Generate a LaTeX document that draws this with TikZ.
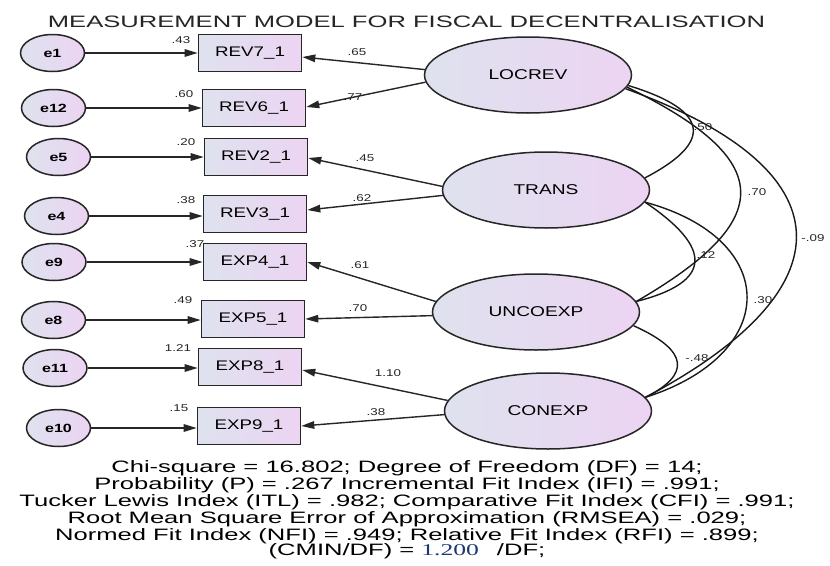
\documentclass[tikz,border=0pt]{standalone}
\usepackage{fontspec}
\usetikzlibrary{shapes.geometric,arrows.meta}
\newfontfamily\arialn{Liberation Sans}[FakeStretch=1.35]
\newfontfamily\arialt{Liberation Sans}[FakeStretch=1.55]
\newfontfamily\timest{Liberation Serif}[FakeStretch=1.55]
\definecolor{gl}{RGB}{222,226,238}
\definecolor{gr}{RGB}{236,212,242}
\definecolor{navyv}{RGB}{30,55,110}
\tikzset{
  latent/.style={ellipse, draw=black!85, line width=1.5pt, left color=gl, right color=gr,
    minimum width=207pt, minimum height=76pt, inner sep=0pt, font=\arialn\fontsize{14.2}{15}\selectfont},
  errv/.style={ellipse, draw=black!85, line width=1.5pt, left color=gl, right color=gr,
    minimum width=64pt, minimum height=37pt, inner sep=0pt, font=\arialn\bfseries\fontsize{11.9}{13}\selectfont},
  obs/.style={rectangle, draw=black!85, line width=1.6pt, left color=gl, right color=gr,
    minimum width=103pt, minimum height=37pt, inner sep=0pt, font=\arialn\fontsize{13.9}{15}\selectfont},
  coef/.style={inner sep=0pt, font=\arialn\fontsize{9.9}{11}\selectfont, text=black!85},
  arr/.style={line width=1.4pt, draw=black!85, -{Triangle[length=13pt,width=7.5pt]}},
  cov/.style={line width=1.4pt, draw=black!90},
  fitline/.style={inner sep=0pt, anchor=base, font=\arialt\fontsize{16.5}{18}\selectfont},
}
\begin{document}
\begin{tikzpicture}[x=1pt,y=-1pt]
\useasboundingbox[fill=white] (0,0) rectangle (830,565);
% title
\node[fitline, text=black!85] (title) at (406.5,27) {MEASUREMENT MODEL FOR FISCAL DECENTRALISATION};
% error terms
\node[errv] (e1)  at (52.5,53) {e1};
\node[errv] (e12) at (53.5,108) {e12};
\node[errv] (e5)  at (58.5,157) {e5};
\node[errv] (e4)  at (56.5,216) {e4};
\node[errv] (e9)  at (54,262) {e9};
\node[errv] (e8)  at (53.5,320) {e8};
\node[errv] (e11) at (55,368) {e11};
\node[errv] (e10) at (58.5,428) {e10};
% observed
\node[obs] (REV7) at (250,53) {REV7\_1};
\node[obs] (REV6) at (254,108) {REV6\_1};
\node[obs] (REV2) at (256,157) {REV2\_1};
\node[obs] (REV3) at (255,214) {REV3\_1};
\node[obs] (EXP4) at (255,262) {EXP4\_1};
\node[obs] (EXP5) at (253,319) {EXP5\_1};
\node[obs] (EXP8) at (250,367) {EXP8\_1};
\node[obs] (EXP9) at (249,426) {EXP9\_1};
% latent
\node[latent] (LOCREV)  at (528,75)  {LOCREV};
\node[latent] (TRANS)   at (546,190) {TRANS};
\node[latent] (UNCOEXP) at (536,312) {UNCOEXP};
\node[latent] (CONEXP)  at (548,411) {CONEXP};
% error arrows
\draw[arr] (e1)  -- (e1 -| REV7.west);
\draw[arr] (e12) -- (e12 -| REV6.west);
\draw[arr] (e5)  -- (e5 -| REV2.west);
\draw[arr] (e4)  -- (e4 -| REV3.west);
\draw[arr] (e9)  -- (e9 -| EXP4.west);
\draw[arr] (e8)  -- (e8 -| EXP5.west);
\draw[arr] (e11) -- (e11 -| EXP8.west);
\draw[arr] (e10) -- (e10 -| EXP9.west);
% loadings
\draw[arr] (LOCREV.177) -- ([yshift=-4pt]REV7.east);
\draw[arr] (LOCREV.184) -- ([yshift=1pt]REV6.east);
\draw[arr] (TRANS.178) -- ([yshift=-1pt]REV2.east);
\draw[arr] (TRANS.183) -- ([yshift=4pt]REV3.east);
\draw[arr] (UNCOEXP.174) -- (EXP4.east);
\draw[arr] (UNCOEXP.182) -- (EXP5.east);
\draw[arr] (CONEXP.174) -- ([yshift=-3pt]EXP8.east);
\draw[arr] (CONEXP.182) -- (EXP9.east);
% covariances
\draw[cov] (LOCREV.354) .. controls (712,111) and (712,143) .. (TRANS.7);
\draw[cov] (LOCREV.353) .. controls (777,160) and (777,220) .. (UNCOEXP.6);
\draw[cov] (LOCREV.352) .. controls (850,170) and (850,289) .. (CONEXP.8);
\draw[cov] (TRANS.353) .. controls (713,248) and (713,282) .. (UNCOEXP.6);
\draw[cov] (TRANS.353) .. controls (781,239) and (781,354) .. (CONEXP.8);
\draw[cov] (UNCOEXP.352) .. controls (690,351) and (690,375) .. (CONEXP.8);
% variance labels
\node[coef] (v1) at (181,40) {.43};
\node[coef] (v2) at (184,94) {.60};
\node[coef] (v3) at (186,142) {.20};
\node[coef] (v4) at (186,200) {.38};
\node[coef] (v5) at (195,244) {.37};
\node[coef] (v6) at (183,300) {.49};
\node[coef] (v7) at (178,348) {1.21};
\node[coef] (v8) at (179,408) {.15};
% loading labels
\node[coef] (l1) at (357,52) {.65};
\node[coef] (l2) at (353,97) {.77};
\node[coef] (l3) at (365,158) {.45};
\node[coef] (l4) at (362,198) {.62};
\node[coef] (l5) at (360,265) {.61};
\node[coef] (l6) at (358,308) {.70};
\node[coef] (l7) at (388,373) {1.10};
\node[coef] (l8) at (376,412) {.38};
% covariance labels
\node[coef] (c1) at (703,127) {.50};
\node[coef] (c2) at (757,192) {.70};
\node[coef] (c3) at (813,238) {-.09};
\node[coef] (c4) at (706,255) {.12};
\node[coef] (c5) at (763,300) {.30};
\node[coef] (c6) at (697,358) {-.48};
% fit statistics
\node[fitline] (f1) at (407,472) {Chi-square = 16.802; Degree of Freedom (DF) = 14;};
\node[fitline] (f2) at (407,489) {Probability (P) = .267 Incremental Fit Index (IFI) = .991;};
\node[fitline] (f3) at (407,506) {Tucker Lewis Index (ITL) = .982; Comparative Fit Index (CFI) = .991;};
\node[fitline] (f4) at (407,523) {Root Mean Square Error of Approximation (RMSEA) = .029;};
\node[fitline] (f5) at (407,540) {Normed Fit Index (NFI) = .949; Relative Fit Index (RFI) = .899;};
\node[fitline] (f6) at (407,555) {(CMIN/DF) = {\timest\color{navyv}1.200}\hspace{18pt}/DF;};
\end{tikzpicture}
\end{document}
